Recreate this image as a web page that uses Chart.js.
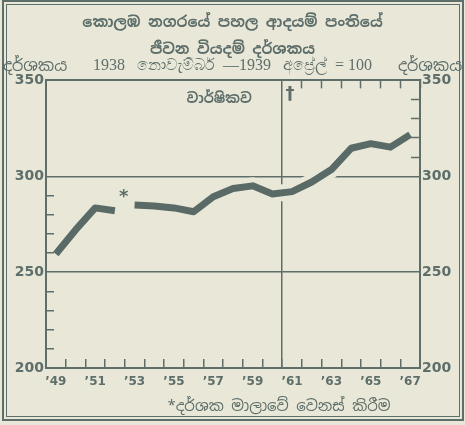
<!DOCTYPE html>
<html>
<head>
<meta charset="utf-8">
<script src="https://cdn.jsdelivr.net/npm/chart.js@4.4.1/dist/chart.umd.min.js"></script>
<style>
  html, body { margin: 0; padding: 0; background: #e9e8d8; }
  #wrap { position: relative; width: 465px; height: 425px; }
  canvas { position: absolute; left: 0; top: 0; }
  #frame {
    position: absolute; left: 6px; top: 4px; width: 454px; height: 413px;
    box-sizing: border-box; border: 1px solid #5e6e6a;
    outline: 2px solid #5e6e6a; outline-offset: 2px; pointer-events: none;
  }
</style>
</head>
<body>
<div id="wrap">
  <canvas id="cost-chart" width="465" height="425"></canvas>
  <div id="frame"></div>
</div>
<script>
// Colombo cost of living index, lower income group (Nov 1938 - Apr 1939 = 100)
let years = ['1949', '1950', '1951', '1952', '1953', '1954', '1955', '1956', '1957', '1958',
             '1959', '1960', '1961', '1962', '1963', '1964', '1965', '1966', '1967'];
// 1949-1952, before the revision of the index series
let indexOld = [259.5, 272, 283.5, 282];
// 1953-1967, after the revision
let indexNew = [285, 284.5, 283.5, 281.5, 289.3, 293.6, 295, 290.8, 292, 297, 303.5, 314.6, 317, 315.2, 321.7];
let yTicks = [200, 250, 300, 350];

let titleLines = ['කොලඹ නගරයේ පහල ආදයම් පංතියේ', 'ජීවන වියදම් දර්ශකය'];
let baseText = '1938   නොවැම්බර්  —1939   අප්‍රේල්  = 100';
let axisName = 'දර්ශකය';
let annualText = 'වාර්ෂිකව';
let footText = '*දර්ශක මාලාවේ වෙනස් කිරීම';

let ink = '#5e6e6a';
let lineInk = '#5a6b67';
let paper = '#e9e8d8';
let sinhala = '"Noto Sans Sinhala", "Noto Sans", sans-serif';

let allValues = indexOld.concat(indexNew);
let oldData = years.map((y, i) => i < indexOld.length ? indexOld[i] : null);
let newData = years.map((y, i) => i >= indexOld.length ? allValues[i] : null);
// paper coloured band under the line, it breaks the grid lines where the line crosses
let haloData = years.map((y, i) => (i === 0 || i === years.length - 1) ? null : allValues[i]);

let notes = {
  id: 'notes',
  afterDatasetsDraw(chart) {
    let ctx = chart.ctx;
    let a = chart.chartArea;
    let x = chart.scales.x;
    let y = chart.scales.y;
    ctx.save();
    ctx.fillStyle = ink;
    ctx.textAlign = 'center';
    ctx.textBaseline = 'middle';
    ctx.font = '16px ' + sinhala;
    ctx.fillText(axisName, a.left - 11, a.top - 14);
    ctx.fillText(axisName, a.right + 10, a.top - 14);
    ctx.font = 'bold 14px ' + sinhala;
    ctx.fillText(annualText, x.getPixelForValue(8.3), y.getPixelForValue(340));
    ctx.font = 'bold 18px "DejaVu Sans"';
    ctx.fillText('†', x.getPixelForValue(11.9), y.getPixelForValue(342.5));
    ctx.font = 'bold 18px "DejaVu Sans"';
    ctx.fillText('*', x.getPixelForValue(3.45), y.getPixelForValue(289));
    ctx.font = '15px ' + sinhala;
    ctx.fillText(footText, 279, 407);
    ctx.restore();
  }
};

let ctx = document.getElementById('cost-chart').getContext('2d');

let chart = new Chart(ctx, {
  type: 'line',
  data: {
    labels: years,
    datasets: [
      { label: 'old', data: oldData, borderColor: lineInk, borderWidth: 7, pointRadius: 0,
        borderCapStyle: 'butt', borderJoinStyle: 'round', tension: 0, order: 1 },
      { label: 'new', data: newData, borderColor: lineInk, borderWidth: 7, pointRadius: 0,
        borderCapStyle: 'butt', borderJoinStyle: 'round', tension: 0, order: 1 },
      { label: 'halo', data: haloData, borderColor: paper, borderWidth: 17, pointRadius: 0,
        borderCapStyle: 'butt', borderJoinStyle: 'round', tension: 0, order: 5 }
    ]
  },
  plugins: [notes],
  options: {
    responsive: false,
    animation: false,
    devicePixelRatio: 1,
    layout: { padding: 0 },
    plugins: {
      legend: { display: false },
      tooltip: { enabled: false },
      title: {
        display: true,
        text: titleLines,
        color: ink,
        font: { family: sinhala, size: 15, weight: 'bold', lineHeight: 1.75 },
        padding: { top: 10, bottom: 0 }
      },
      subtitle: {
        display: true,
        text: baseText,
        color: ink,
        font: { family: '"Liberation Serif", serif', size: 16, lineHeight: 1.2 },
        padding: { top: -6, bottom: 0 }
      }
    },
    scales: {
      x: {
        type: 'category',
        position: 'bottom',
        offset: true,
        grid: {
          offset: true,
          color: c => c.index === 12 ? ink : 'transparent',
          lineWidth: 1.5,
          tickLength: -9,
          tickColor: ink,
          tickWidth: 1.5
        },
        border: { color: ink, width: 2 },
        ticks: {
          autoSkip: false, maxRotation: 0, padding: 16, color: ink,
          font: { family: '"DejaVu Sans"', weight: 'bold', size: 12 },
          callback: function (value, index) {
            let yr = years[index];
            return (+yr) % 2 === 1 ? '’' + yr.slice(2) : '';
          }
        },
        afterFit: s => { s.height = 57; }
      },
      x2: {
        type: 'category',
        axis: 'x',
        position: 'top',
        offset: true,
        grid: {
          offset: true,
          drawOnChartArea: false,
          tickLength: -8,
          tickColor: c => (c.index === undefined || c.index >= 13) ? ink : 'transparent',
          tickWidth: 1.5
        },
        border: { color: ink, width: 2 },
        ticks: { display: false },
        afterFit: s => { s.height = 4.7; }
      },
      y: {
        min: 200, max: 350,
        position: 'left',
        grid: {
          color: c => (c.tick && yTicks.includes(c.tick.value) && c.tick.value > 200 && c.tick.value < 350) ? ink : 'transparent',
          lineWidth: 1.5,
          tickLength: -8,
          tickColor: c => (c.tick && c.tick.value > 200 && c.tick.value < 300 && c.tick.value !== 250) ? ink : 'transparent',
          tickWidth: 1.5
        },
        border: { color: ink, width: 2 },
        ticks: {
          stepSize: 10, autoSkip: false, padding: 10, color: ink,
          font: { family: '"DejaVu Sans"', weight: 'bold', size: 14 },
          callback: v => yTicks.includes(v) ? v : ''
        },
        afterFit: s => { s.width = 46; }
      },
      y2: {
        min: 200, max: 350,
        axis: 'y',
        position: 'right',
        grid: {
          drawOnChartArea: false,
          tickLength: -9,
          tickColor: c => (c.tick && c.tick.value > 300 && c.tick.value < 350) ? ink : 'transparent',
          tickWidth: 1.5
        },
        border: { color: ink, width: 2 },
        ticks: {
          stepSize: 10, autoSkip: false, padding: 11, color: ink,
          font: { family: '"DejaVu Sans"', weight: 'bold', size: 14 },
          callback: v => yTicks.includes(v) ? v : ''
        },
        afterFit: s => { s.width = 45; }
      }
    }
  }
});
</script>
</body>
</html>
